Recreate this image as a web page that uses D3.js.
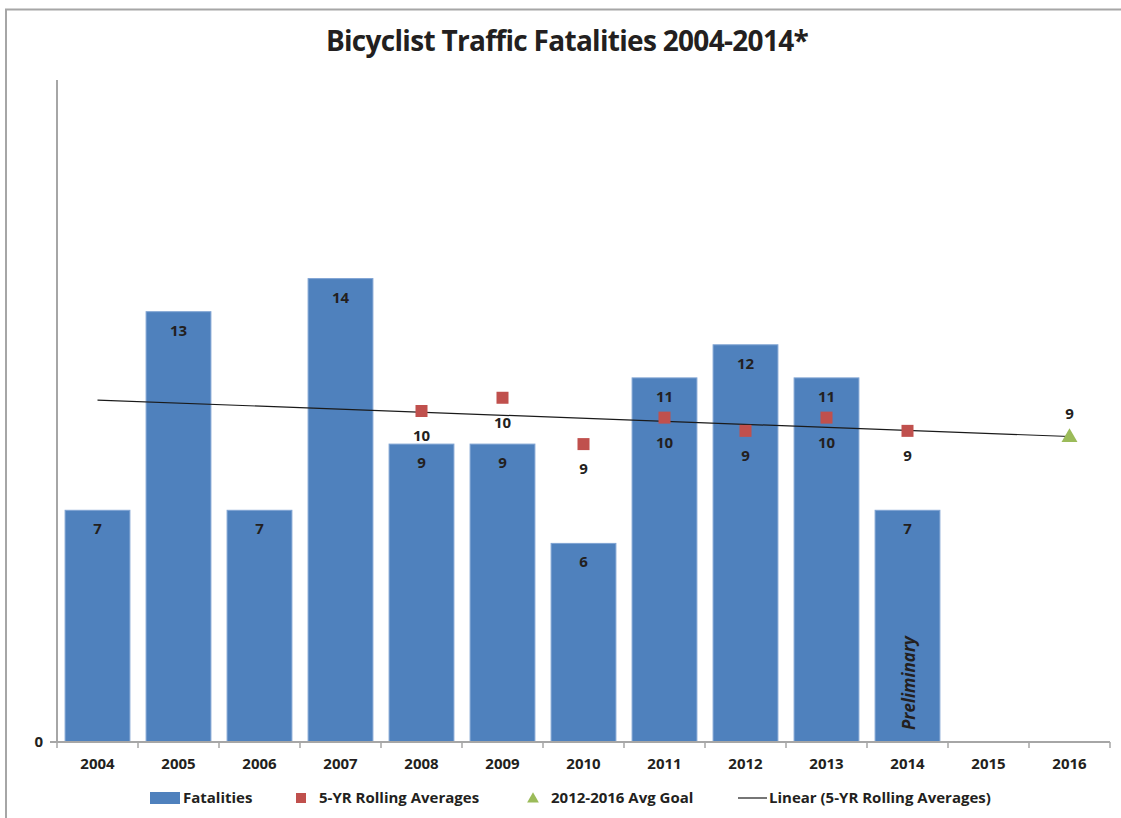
<!DOCTYPE html>
<html>
<head>
<meta charset="utf-8">
<script src="https://cdn.jsdelivr.net/npm/d3@7"></script>
<style>
  body { margin: 0; background: #fff; }
  text { font-family: "Open Sans", "Noto Sans", sans-serif; font-weight: 700; fill: #231f20; }
</style>
</head>
<body>
<div id="canvas"></div>
<script>
const width = 1121;
const height = 818;

// data
const years = ["2004", "2005", "2006", "2007", "2008", "2009", "2010", "2011", "2012", "2013", "2014", "2015", "2016"];
const fatalities = [7, 13, 7, 14, 9, 9, 6, 11, 12, 11, 7];
const rollingYears = ["2008", "2009", "2010", "2011", "2012", "2013", "2014"];
const rollingAvg = [10.0, 10.4, 9.0, 9.8, 9.4, 9.8, 9.4];
const goalYears = ["2016"];
const goalValues = [9.23];
const trendYears = ["2004", "2016"];
const trendValues = [10.33, 9.23];
const yTicks = [0];

const svg = d3.select("#canvas")
    .append("svg")
    .attr("width", width)
    .attr("height", height);

// outer chart border (top + left visible)
svg.append("path")
    .attr("d", "M6,818V9.5H1121")
    .attr("fill", "none")
    .attr("stroke", "#a6a6a6")
    .attr("stroke-width", 2);

svg.append("text")
    .attr("x", 567)
    .attr("y", 51)
    .attr("text-anchor", "middle")
    .attr("font-size", 28)
    .attr("letter-spacing", -0.7)
    .text("Bicyclist Traffic Fatalities 2004-2014*");

const plotLeft = 57, plotRight = 1110, plotTop = 80, plotBottom = 742;

const x = d3.scaleBand()
    .domain(years)
    .range([plotLeft, plotRight])
    .paddingInner(0.2)
    .paddingOuter(0.1);

const xc = d => x(d) + x.bandwidth() / 2;

const y = d3.scaleLinear()
    .domain([0, 20])
    .range([plotBottom, plotTop]);

// bars
svg.append("g")
    .selectAll("rect")
    .data(fatalities)
    .join("rect")
    .attr("x", (d, i) => x(years[i]))
    .attr("y", d => y(d))
    .attr("width", x.bandwidth())
    .attr("height", d => y(0) - y(d))
    .attr("fill", "#4f81bd")
    .attr("stroke", "#7fa3d3")
    .attr("stroke-width", 1);

svg.append("g")
    .selectAll("text")
    .data(fatalities)
    .join("text")
    .attr("x", (d, i) => xc(years[i]))
    .attr("y", d => y(d) + 24)
    .attr("text-anchor", "middle")
    .attr("font-size", 15)
    .text(d => d);

// preliminary note in 2014 bar
svg.append("text")
    .attr("transform", `translate(${xc("2014") + 7},${y(0) - 12})rotate(-90)`)
    .attr("font-size", 17)
    .attr("font-style", "italic")
    .text("Preliminary");

// axes
const xAxis = svg.append("g")
    .attr("transform", `translate(0,${plotBottom})`)
    .call(d3.axisBottom(x).tickSize(0).tickPadding(16));
xAxis.select(".domain").attr("stroke", "#a6a6a6").attr("stroke-width", 2)
    .attr("d", `M${plotLeft - 7},0H${plotRight}`);
xAxis.selectAll("text")
    .attr("font-size", 15)
    .attr("font-family", "'Open Sans', sans-serif")
    .attr("font-weight", 700)
    .attr("fill", "#231f20");

svg.append("g")
    .selectAll("line")
    .data(years.concat(["end"]))
    .join("line")
    .attr("x1", (d, i) => i < years.length ? x(d) - x.step() * x.paddingInner() / 2 : plotRight)
    .attr("x2", (d, i) => i < years.length ? x(d) - x.step() * x.paddingInner() / 2 : plotRight)
    .attr("y1", plotBottom)
    .attr("y2", plotBottom + 6)
    .attr("stroke", "#a6a6a6")
    .attr("stroke-width", 1.5);

const yAxis = svg.append("g")
    .attr("transform", `translate(${plotLeft},0)`)
    .call(d3.axisLeft(y).tickValues(yTicks).tickSize(0).tickPadding(14));
yAxis.select(".domain").attr("stroke", "#a6a6a6").attr("stroke-width", 2)
    .attr("d", `M0,${plotTop}V${plotBottom}`);
yAxis.selectAll("text")
    .attr("font-size", 15)
    .attr("font-family", "'Open Sans', sans-serif")
    .attr("font-weight", 700)
    .attr("fill", "#231f20");

// trend line
const line = d3.line()
    .x((d, i) => xc(trendYears[i]))
    .y(d => y(d));
svg.append("path")
    .datum(trendValues)
    .attr("d", line)
    .attr("fill", "none")
    .attr("stroke", "#1a1a1a")
    .attr("stroke-width", 1.2);

// rolling averages
svg.append("g")
    .selectAll("rect")
    .data(rollingAvg)
    .join("rect")
    .attr("x", (d, i) => xc(rollingYears[i]) - 6)
    .attr("y", d => y(d) - 6)
    .attr("width", 12)
    .attr("height", 12)
    .attr("fill", "#c0504d");

svg.append("g")
    .selectAll("text")
    .data(rollingAvg)
    .join("text")
    .attr("x", (d, i) => xc(rollingYears[i]))
    .attr("y", d => y(d) + 30)
    .attr("text-anchor", "middle")
    .attr("font-size", 15)
    .text(d => Math.round(d));

// goal
const tri = d3.symbol().type(d3.symbolTriangle).size(110);
svg.append("g")
    .selectAll("path")
    .data(goalValues)
    .join("path")
    .attr("d", tri)
    .attr("transform", (d, i) => `translate(${xc(goalYears[i])},${y(d) + 1})`)
    .attr("fill", "#9bbb59");

svg.append("g")
    .selectAll("text")
    .data(goalValues)
    .join("text")
    .attr("x", (d, i) => xc(goalYears[i]))
    .attr("y", d => y(d) - 17)
    .attr("text-anchor", "middle")
    .attr("font-size", 15)
    .text(d => Math.round(d));

// legend
const legend = svg.append("g").attr("transform", "translate(0,798)");
legend.append("rect").attr("x", 150).attr("y", -6).attr("width", 30).attr("height", 12).attr("fill", "#4f81bd");
legend.append("text").attr("x", 183).attr("y", 5).attr("font-size", 15).text("Fatalities");
legend.append("rect").attr("x", 296).attr("y", -5).attr("width", 10).attr("height", 10).attr("fill", "#c0504d");
legend.append("text").attr("x", 319).attr("y", 5).attr("font-size", 15).text("5-YR Rolling Averages");
legend.append("path").attr("d", d3.symbol().type(d3.symbolTriangle).size(60)).attr("transform", "translate(533,1)").attr("fill", "#9bbb59");
legend.append("text").attr("x", 551).attr("y", 5).attr("font-size", 15).text("2012-2016 Avg Goal");
legend.append("line").attr("x1", 738).attr("x2", 767).attr("y1", 0).attr("y2", 0).attr("stroke", "#1a1a1a").attr("stroke-width", 1.2);
legend.append("text").attr("x", 769).attr("y", 5).attr("font-size", 15).text("Linear (5-YR Rolling Averages)");
</script>
</body>
</html>
